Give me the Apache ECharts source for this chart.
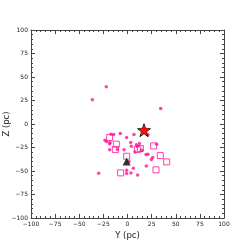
<!DOCTYPE html>
<html><head><meta charset="utf-8">
<script src="https://cdn.jsdelivr.net/npm/echarts@6/dist/echarts.min.js"></script>
<style>html,body{margin:0;padding:0;background:#fff}#c{width:249px;height:249px}</style>
</head><body><div id="c"></div>
<script>
const dotsY = [-22,-36.4,34.4,21.2,-7.4,-17.1,-14.3,-0.9,6.7,-23.3,-21.6,-18,-18.6,3.3,9.1,4,12.3,10.2,-18.5,-10.5,-3.6,14.7,7.8,30.2,19.2,21.2,26.1,24.7,1.5,19.5,6,-0.9,-29.9,-0.9,3.6,10.5];
const dotsZ = [39.6,25.8,16.5,-11.5,-10.1,-10.8,-11.2,-14.4,-11.2,-17.2,-18.6,-20,-21,-19.7,-22.2,-23.6,-20.8,-23.6,-27.5,-26.8,-27.5,-27.9,-29.7,-21.5,-32.5,-32.1,-35.7,-37.8,-40,-44.6,-47.1,-49.2,-52.4,-52.7,-52,-54.2];
const sqY = [-18.5,-11.6,-12.6,-0.9,10.2,13.3,27.1,34,40.6,29.5,-7.1];
const sqZ = [-14.4,-21.5,-27.2,-34.3,-27.2,-26.1,-23.3,-33.6,-40.3,-48.8,-52];
const starY = [17.1], starZ = [-6.6];
const triY = [-0.9], triZ = [-40];
const ticks = [-100,-75,-50,-25,0,25,50,75,100];
const pink = '#ff1493';
const zip = (a,b)=>a.map((v,i)=>[v,b[i]]);
const fmt = v => (v<0?'\u2212'+(-v):''+v);
const font = 'DejaVu Sans';
function ax(extra){
  return Object.assign({
    min:-100,max:100,interval:25,
    axisLine:{show:true,onZero:false,lineStyle:{color:'#444',width:1}},
    axisTick:{show:true,inside:true,length:4,lineStyle:{color:'#444'}},
    minorTick:{show:true,splitNumber:5,length:2,lineStyle:{color:'#444'}},
    splitLine:{show:false},
    nameMoveOverlap:false,
    axisLabel:{fontFamily:font,fontSize:6,color:'#222',margin:3,formatter:fmt}
  },extra);
}
const chart = echarts.init(document.getElementById('c'),null,{renderer:'canvas'});
chart.setOption({
  animation:false,
  grid:{left:31,right:25,top:30,bottom:31,containLabel:false,outerBoundsMode:'none'},
  xAxis:[ax({type:'value',position:'bottom',name:'Y (pc)',nameLocation:'middle',nameGap:13,nameTextStyle:{fontFamily:font,fontSize:8.5,color:'#222'}}),
         ax({type:'value',position:'top',axisLabel:{show:false}})],
  yAxis:[ax({type:'value',position:'left',name:'Z (pc)',nameLocation:'middle',nameGap:20,nameTextStyle:{fontFamily:font,fontSize:8.5,color:'#222'}}),
         ax({type:'value',position:'right',axisLabel:{show:false}})],
  series:[
    {type:'scatter',data:zip(dotsY,dotsZ),symbol:'circle',symbolSize:3.5,itemStyle:{color:pink}},
    {type:'scatter',data:zip(sqY,sqZ),symbol:'rect',symbolSize:6,itemStyle:{color:'rgba(0,0,0,0)',borderColor:pink,borderWidth:1}},
    {type:'scatter',data:zip(triY,triZ),symbol:'triangle',symbolSize:8,itemStyle:{color:'#000'}},
    {type:'scatter',data:zip(starY,starZ),symbol:'path://M0,-1 L0.2245,-0.309 L0.951,-0.309 L0.363,0.118 L0.588,0.809 L0,0.382 L-0.588,0.809 L-0.363,0.118 L-0.951,-0.309 L-0.2245,-0.309 Z',symbolSize:13,itemStyle:{color:'#ff0000',borderColor:'#000',borderWidth:1}},
    {type:'scatter',data:zip(starY,starZ),symbol:'circle',symbolSize:7,itemStyle:{color:'#ff0000'}}
  ]
});
</script></body></html>
